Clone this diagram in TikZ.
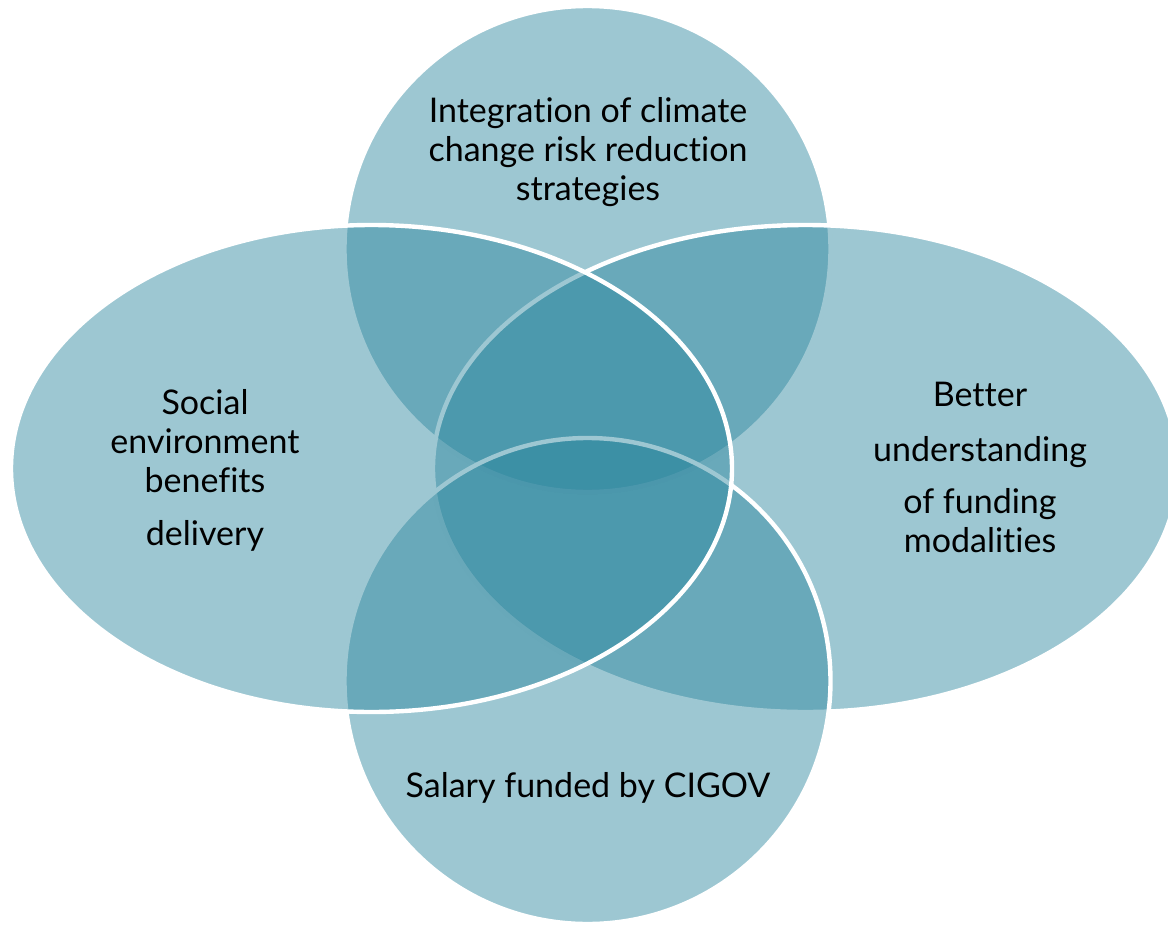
\documentclass[tikz,border=0pt]{standalone}
\usepackage{fontspec}
\setmainfont{Lato}[Ligatures={NoCommon}]
\definecolor{venn}{RGB}{42,133,157}
\tikzset{
  vennshape/.style={fill=venn, fill opacity=0.46, draw=white, draw opacity=1, line width=2.2pt},
  lbl/.style={inner sep=0pt, align=center, font=\fontsize{17}{19.5}\selectfont, text=black}
}
\begin{document}
\begin{tikzpicture}[x=0.5pt,y=-0.5pt]
\useasboundingbox (0,0) rectangle (1168,926);
\clip (0,0) rectangle (1168,926);
% top circle
\path[vennshape] (587.5,249) circle [radius=121.5pt];
% right ellipse
\path[vennshape] (805.5,468.5) ellipse [x radius=186.25pt, y radius=121.75pt];
% bottom circle
\path[vennshape] (587.5,681) circle [radius=121.5pt];
% left ellipse
\path[vennshape] (371.5,468.5) ellipse [x radius=180.25pt, y radius=121.75pt];
% labels
\node[lbl] (top) at (588,152) {Integration of climate\\change risk reduction\\strategies};
\node[lbl] (left) at (205,470) {Social\\environment\\benefits\\[7pt]delivery};
\node[lbl] (right) at (980,467) {Better\\[8pt]understanding\\[6.5pt]of funding\\modalities};
\node[lbl] (bottom) at (588,788) {Salary funded by CIGOV};
\end{tikzpicture}
\end{document}
